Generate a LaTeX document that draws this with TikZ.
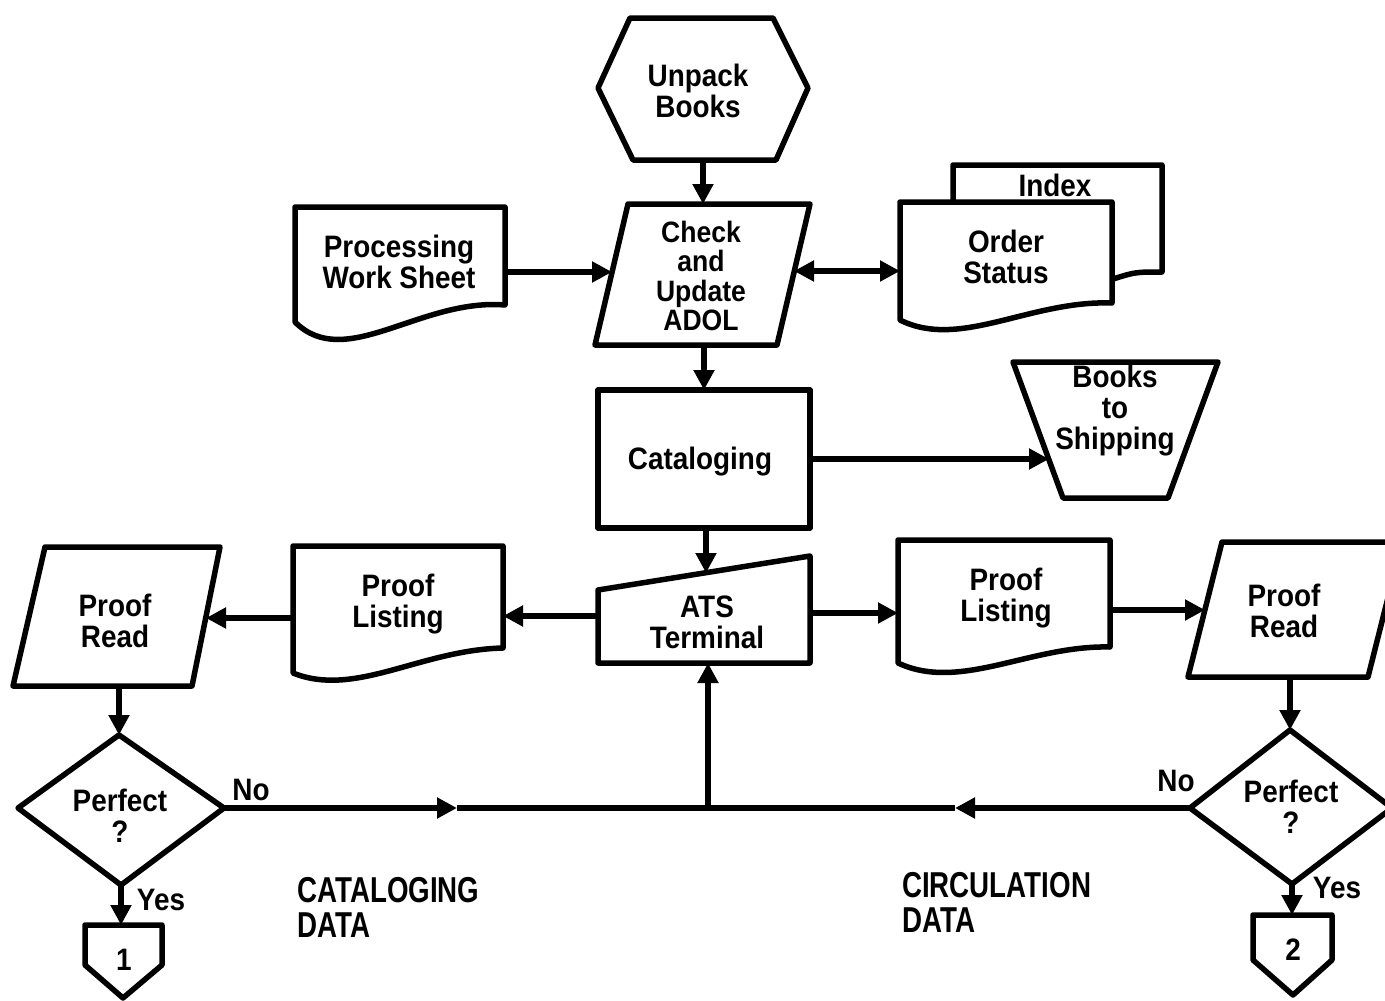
\documentclass[tikz,border=0pt]{standalone}
\usepackage{fontspec}
\setmainfont{Liberation Sans}
\newfontfamily\labfont[FakeStretch=0.9]{Liberation Sans}
\newfontfamily\datafont[FakeStretch=0.77]{Liberation Sans}
\usetikzlibrary{arrows.meta}
\begin{document}
\begin{tikzpicture}[x=1pt,y=-1pt,
  shp/.style={draw=black, line width=5.5pt, line join=round, fill=white},
  lab/.style={font=\labfont\bfseries\fontsize{31}{31}\selectfont, align=center, inner sep=0pt},
  datalab/.style={font=\datafont\bfseries\fontsize{36}{35}\selectfont, align=left, inner sep=0pt, anchor=west},
  con/.style={line width=5.5pt, -{Triangle[length=20pt,width=20pt]}},
  plain/.style={line width=5.5pt}]
\useasboundingbox (0,0) rectangle (1385,1001);
\fill[white] (0,0) rectangle (1385,1001);
\clip (0,0) rectangle (1385,1001);

% ---------- shapes ----------
% Unpack Books (hexagon)
\draw[shp] (630,18) -- (773,18) -- (808,88) -- (776,160) -- (633,160) -- (598,88) -- cycle;
\node[lab] (unpack) at (698,91) {Unpack\\Books};
% Check and Update ADOL (parallelogram)
\draw[shp] (628,204) -- (810,204) -- (777,345) -- (595,345) -- cycle;
\node[lab, font=\labfont\bfseries\fontsize{29.5}{29.5}\selectfont] (check) at (701,276) {Check\\and\\Update\\ADOL};
% Processing Work Sheet (document)
\draw[shp] (295,207) -- (505,207) -- (505,305) .. controls (420,298) and (345,372) .. (295,322) -- cycle;
\node[lab] (pws) at (399,262) {Processing\\Work Sheet};
% Index (behind)
\draw[shp] (953,205) -- (953,165) -- (1162,165) -- (1162,272) .. controls (1135,272) .. (1110,280);
\node[lab] (index) at (1055,185) {Index};
% Order Status (document)
\draw[shp] (900,202) -- (1112,202) -- (1112,303) .. controls (1030,300) and (960,350) .. (900,320) -- cycle;
\node[lab] (order) at (1006,257) {Order\\Status};
% Cataloging
\draw[shp] (598,390) rectangle (810,528);
\node[lab] (catal) at (700,462) {Cataloging};
% Books to Shipping (trapezoid)
\draw[shp] (1013,362) -- (1218,362) -- (1168,498) -- (1063,498) -- cycle;
\node[lab] (ship) at (1115,411) {Books\\to\\Shipping};
% ATS Terminal (manual input)
\draw[shp] (598,590) -- (810,556) -- (810,663) -- (598,663) -- cycle;
\node[lab] (ats) at (707,622) {ATS\\Terminal};
% left Proof Listing
\draw[shp] (293,546) -- (503,546) -- (503,648) .. controls (420,650) and (355,698) .. (293,673) -- cycle;
\node[lab] (plL) at (398,604) {Proof\\Listing};
% right Proof Listing
\draw[shp] (898,540) -- (1110,540) -- (1110,647) .. controls (1030,645) and (960,692) .. (898,663) -- cycle;
\node[lab] (plR) at (1006,598) {Proof\\Listing};
% left Proof Read
\draw[shp] (45,547) -- (220,547) -- (192,686) -- (13,686) -- cycle;
\node[lab] (prL) at (115,621) {Proof\\Read};
% right Proof Read
\draw[shp] (1222,542) -- (1402,542) -- (1368,677) -- (1188,677) -- cycle;
\node[lab] (prR) at (1284,611) {Proof\\Read};
% left diamond
\draw[shp] (119,735) -- (224,808) -- (121,885) -- (18,808) -- cycle;
\node[lab] (dL) at (120,816) {Perfect\\?};
% right diamond
\draw[shp] (1290,730) -- (1392,808) -- (1292,884) -- (1190,808) -- cycle;
\node[lab] (dR) at (1291,807) {Perfect\\?};
% off-page connectors
\draw[shp] (85,925) -- (162,925) -- (162,965) -- (123,998) -- (85,965) -- cycle;
\node[lab] (c1) at (124,960) {1};
\draw[shp] (1253,915) -- (1332,915) -- (1332,960) -- (1293,995) -- (1253,960) -- cycle;
\node[lab] (c2) at (1293,950) {2};

% ---------- connection points ----------
\coordinate (hexS) at (703,160);
\coordinate (chkN) at (703,204);
\coordinate (chkW) at (612,272);
\coordinate (pwsE) at (505,272);
\coordinate (chkE) at (794,271);
\coordinate (ordW) at (900,271);
\coordinate (chkS) at (704,345);
\coordinate (catN) at (704,390);
\coordinate (catE) at (810,459);
\coordinate (shipW) at (1049,459);
\coordinate (catS) at (706,528);
\coordinate (atsN) at (706,573);
\coordinate (atsW) at (598,616);
\coordinate (plLE) at (503,616);
\coordinate (plLW) at (293,618);
\coordinate (prLE) at (206,618);
\coordinate (prLS) at (119,686);
\coordinate (dLN) at (119,735);
\coordinate (dLE) at (224,808);
\coordinate (midL) at (457,808);
\coordinate (junc) at (708,808);
\coordinate (atsS) at (708,663);
\coordinate (atsE) at (810,613);
\coordinate (plRW) at (898,613);
\coordinate (plRE) at (1110,610);
\coordinate (prRW) at (1205,610);
\coordinate (prRS) at (1290,677);
\coordinate (dRN) at (1290,730);
\coordinate (dRW) at (1190,808);
\coordinate (midR) at (955,808);
\coordinate (dLS) at (121,885);
\coordinate (c1N) at (121,925);
\coordinate (dRS) at (1292,884);
\coordinate (c2N) at (1292,915);

% ---------- connectors ----------
\draw[con] (hexS) -- (chkN);
\draw[con] (pwsE) -- (chkW);
\draw[line width=5.5pt, {Triangle[length=20pt,width=20pt]}-{Triangle[length=20pt,width=20pt]}] (chkE) -- (ordW);
\draw[con] (chkS) -- (catN);
\draw[con] (catE) -- (shipW);
\draw[con] (catS) -- (atsN);
\draw[con] (atsW) -- (plLE);
\draw[con] (plLW) -- (prLE);
\draw[con] (prLS) -- (dLN);
\draw[con] (dLE) -- (midL);
\draw[plain] (midL) -- (junc);
\draw[con] (junc) -- (atsS);
\draw[con] (atsE) -- (plRW);
\draw[con] (plRE) -- (prRW);
\draw[con] (prRS) -- (dRN);
\draw[con] (dRW) -- (midR);
\draw[plain] (midR) -- (junc);
\draw[con] (dLS) -- (c1N);
\draw[con] (dRS) -- (c2N);

% ---------- labels ----------
\node[lab] (noL) at (251,790) {No};
\node[lab] (noR) at (1176,781) {No};
\node[lab] (yesL) at (161,900) {Yes};
\node[lab] (yesR) at (1337,888) {Yes};
\node[datalab] (catdata) at (297,907) {CATALOGING\\DATA};
\node[datalab] (circdata) at (902,902) {CIRCULATION\\DATA};
\end{tikzpicture}
\end{document}
